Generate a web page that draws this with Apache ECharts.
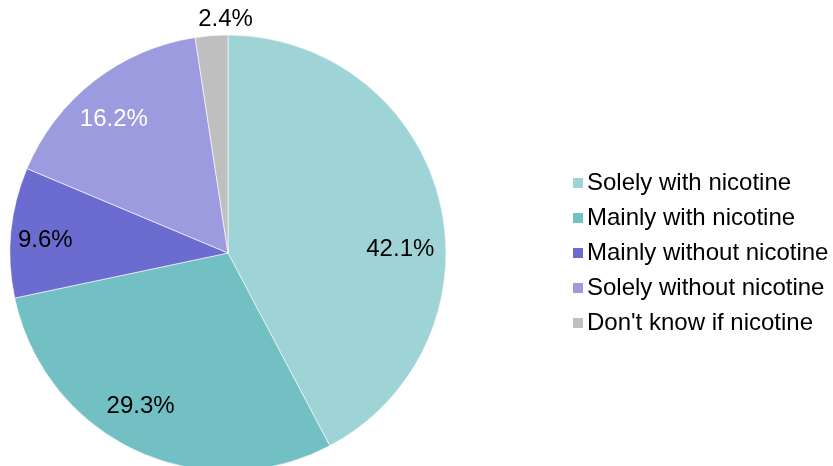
<!DOCTYPE html>
<html>
<head>
<meta charset="utf-8">
<script src="https://cdn.jsdelivr.net/npm/echarts@6/dist/echarts.min.js"></script>
<style>html,body{margin:0;padding:0;background:#fff;}#c{width:833px;height:466px;}</style>
</head>
<body>
<div id="c"></div>
<script>
const categories = ['Solely with nicotine', 'Mainly with nicotine', 'Mainly without nicotine', 'Solely without nicotine', "Don't know if nicotine"];
const values = [42.1, 29.3, 9.6, 16.2, 2.4];

const colors = ['#9fd4d7', '#72bfc4', '#6c6bd0', '#9d9be0', '#bfbfbf'];
const labelColors = ['#000', '#000', '#000', '#fff', '#000'];
const labelOffsets = [[0, 39], [-12, -7], [-6, 4], [-5, 6], [11, -57]];
const FONT = '"Liberation Sans", Arial, sans-serif';

const chart = echarts.init(document.getElementById('c'));
chart.setOption({
  animation: false,
  color: colors,
  legend: {
    orient: 'vertical',
    left: 571,
    top: 171,
    padding: 0,
    itemWidth: 12,
    itemHeight: 12,
    itemGap: 11,
    icon: 'rect',
    textStyle: { fontFamily: FONT, fontSize: 24, color: '#000', lineHeight: 24, padding: [0, 0, 0, -2] },
    data: categories
  },
  series: [
    {
      type: 'pie',
      center: [228, 253],
      radius: [0, 218],
      startAngle: 90,
      clockwise: true,
      label: { show: false },
      labelLine: { show: false },
      emphasis: { disabled: true },
      itemStyle: { borderColor: '#ffffff', borderWidth: 0.6 },
      data: categories.map((c, i) => ({ name: c, value: values[i] }))
    },
    {
      type: 'pie',
      center: [228, 253],
      radius: [131, 218],
      startAngle: 90,
      clockwise: true,
      silent: true,
      legendHoverLink: false,
      itemStyle: { color: 'rgba(0,0,0,0)' },
      labelLine: { show: false },
      emphasis: { disabled: true },
      data: categories.map((c, i) => ({
        name: c,
        value: values[i],
        label: {
          show: true,
          position: 'inside',
          formatter: values[i].toFixed(1) + '%',
          fontFamily: FONT,
          fontSize: 24,
          color: labelColors[i],
          offset: labelOffsets[i]
        }
      }))
    }
  ]
});
</script>
</body>
</html>
